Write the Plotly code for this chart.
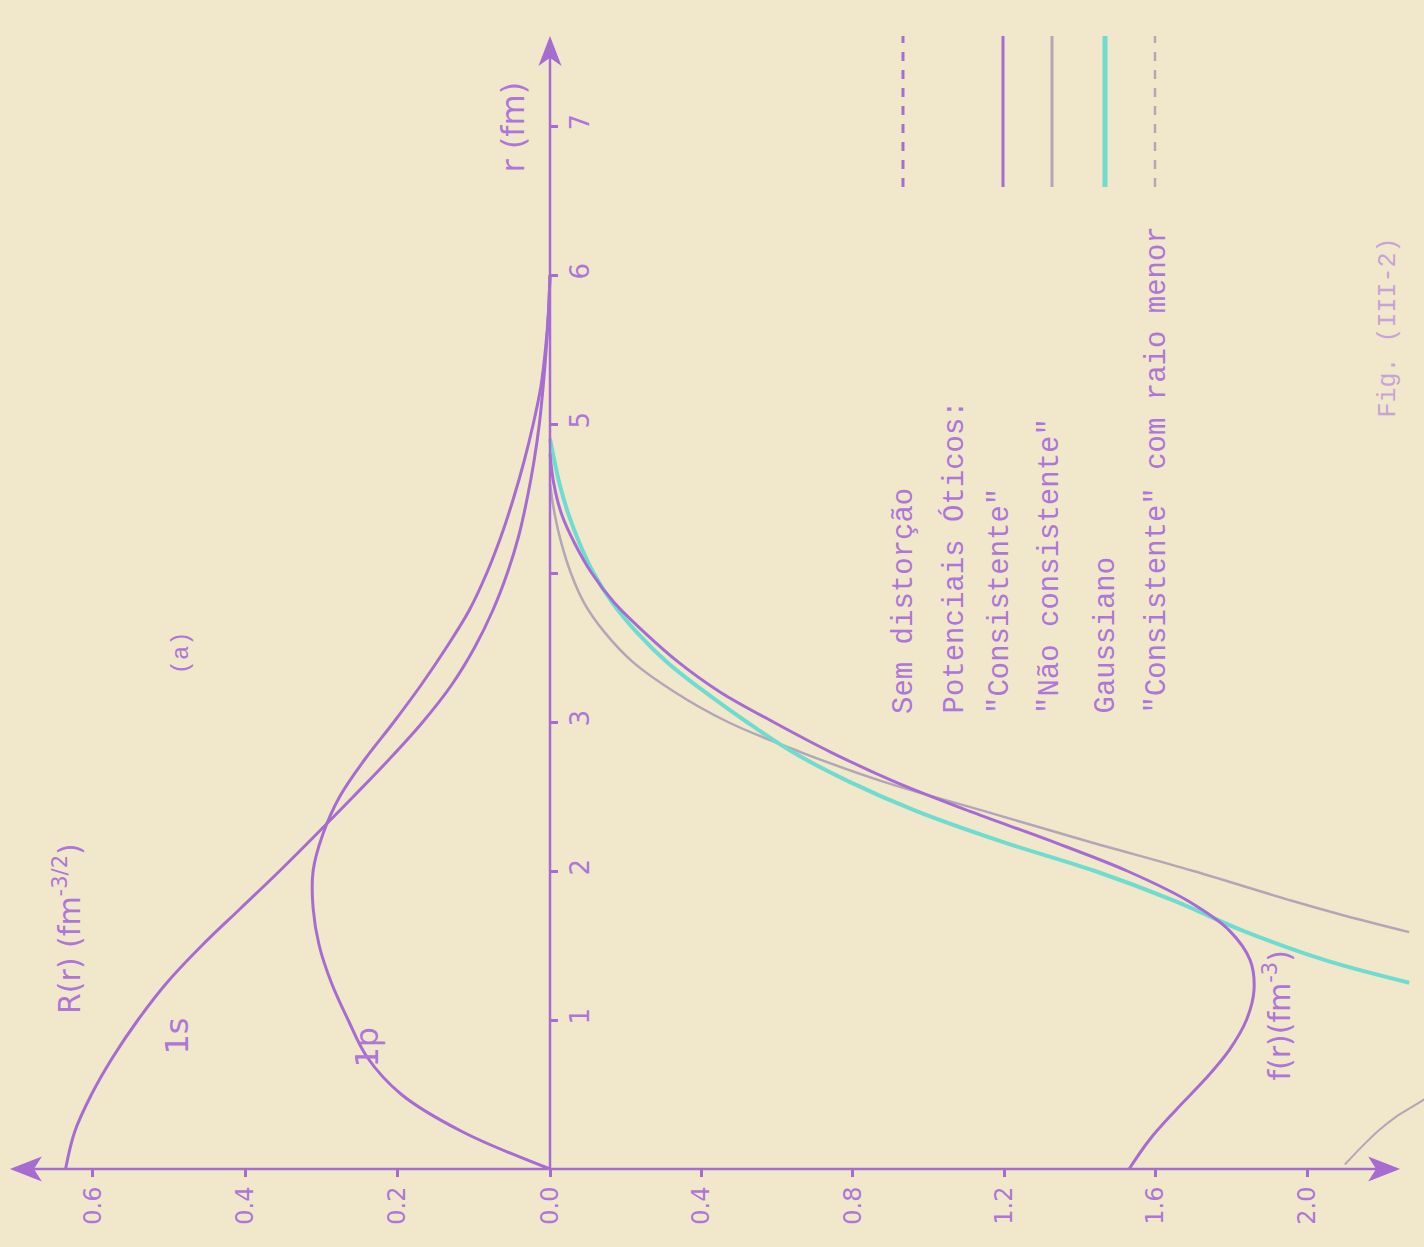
import plotly.graph_objects as go

# ---------------- data ----------------
# radial coordinate r (fm) and radial wave functions R(r) (fm^-3/2)
r_wave = [0, 0.25, 0.5, 0.75, 1.0, 1.25, 1.5, 1.75, 2.0, 2.25, 2.5, 2.75, 3.0,
          3.25, 3.5, 3.75, 4.0, 4.25, 4.5, 4.75, 5.0, 5.25, 5.5, 5.75, 6.0]
R_1s = [0.636, 0.624, 0.602, 0.574, 0.541, 0.503, 0.457, 0.406, 0.355, 0.306,
        0.258, 0.211, 0.167, 0.129, 0.099, 0.075, 0.056, 0.041, 0.030, 0.021,
        0.014, 0.009, 0.005, 0.002, 0.0]
R_1p = [0.0, 0.115, 0.195, 0.240, 0.265, 0.287, 0.303, 0.311, 0.311, 0.298,
        0.276, 0.243, 0.205, 0.169, 0.136, 0.106, 0.083, 0.064, 0.048, 0.034,
        0.022, 0.012, 0.006, 0.002, 0.0]

# densities f(r) (fm^-3)
r_cons = [0.0, 0.2, 0.4, 0.6, 0.8, 1.0, 1.2, 1.4, 1.6, 1.8, 2.0, 2.2, 2.4, 2.6,
          2.8, 3.0, 3.2, 3.4, 3.6, 3.8, 4.0, 4.2, 4.4, 4.6, 4.8]
f_cons = [1.53, 1.585, 1.655, 1.73, 1.795, 1.84, 1.86, 1.85, 1.795, 1.685,
          1.525, 1.325, 1.11, 0.91, 0.74, 0.59, 0.45, 0.34, 0.25, 0.17, 0.11,
          0.065, 0.03, 0.01, 0.0]

r_gauss = [1.25, 1.4, 1.6, 1.8, 2.0, 2.2, 2.4, 2.6, 2.8, 3.0, 3.2, 3.4, 3.6,
           3.8, 4.0, 4.2, 4.4, 4.6, 4.8, 4.9]
f_gauss = [2.27, 2.05, 1.83, 1.65, 1.44, 1.19, 0.97, 0.79, 0.64, 0.52, 0.41,
           0.31, 0.23, 0.165, 0.115, 0.078, 0.048, 0.025, 0.008, 0.0]

r_naocons = [1.59, 1.7, 1.8, 2.0, 2.2, 2.4, 2.6, 2.8, 3.0, 3.2, 3.4, 3.6, 3.8,
             4.0, 4.2, 4.4, 4.6]
f_naocons = [2.27, 2.10, 1.96, 1.70, 1.42, 1.15, 0.88, 0.66, 0.47, 0.33, 0.22,
             0.145, 0.09, 0.055, 0.03, 0.012, 0.0]

r_menor = [0.03, 0.15, 0.26, 0.35, 0.42, 0.5]
f_menor = [2.10, 2.145, 2.19, 2.235, 2.28, 2.33]

R_ticks = [0.6, 0.4, 0.2, 0.0]
R_ticktext = ["0.6", "0.4", "0.2", "0.0"]
f_ticks = [0.4, 0.8, 1.2, 1.6, 2.0]
f_ticktext = ["0.4", "0.8", "1.2", "1.6", "2.0"]
r_ticks = [1, 2, 3, 5, 6, 7]
r_ticktext = ["1", "2", "3", "5", "6", "7"]
r_minor_ticks = [4]          # tick mark drawn without a label

legend_labels = ["Sem distorção", "Potenciais Óticos:", "\"Consistente\"",
                 "\"Não consistente\"", "Gaussiano",
                 "\"Consistente\" com raio menor"]

# ---------------- styling / layout ----------------
W, H = 1424, 1247
X0 = 550           # pixel column of the r axis
Y0 = 1169          # pixel row of the horizontal axis (r = 0)
PX_R = 149.0       # pixels per fm
PX_RR = 761.7      # pixels per unit of R
PX_F = 378.5       # pixels per unit of f

BG = "#F1E8CB"
PURPLE = "#A66CD2"
TXT = "#AE76D8"
CYAN = "#6FDCCF"
GREY = "#B3A6B6"
LIGHT = "#C7A4D6"


def px(x):
    return x / W


def py(y):
    return (Y0 - y) / Y0


def path(points):
    return "M " + " L ".join(f"{px(a):.5f},{py(b):.5f}" for a, b in points) + " Z"


fig = go.Figure()

fig.add_trace(go.Scatter(x=R_1s, y=r_wave, mode="lines", xaxis="x", yaxis="y",
                         line=dict(color=PURPLE, width=3, shape="spline"),
                         name="1s"))
fig.add_trace(go.Scatter(x=R_1p, y=r_wave, mode="lines", xaxis="x", yaxis="y",
                         line=dict(color=PURPLE, width=3, shape="spline"),
                         name="1p"))
fig.add_trace(go.Scatter(x=f_naocons, y=r_naocons, mode="lines", xaxis="x2",
                         yaxis="y", line=dict(color=GREY, width=2.5,
                                              shape="spline"),
                         name="Não consistente"))
fig.add_trace(go.Scatter(x=f_gauss, y=r_gauss, mode="lines", xaxis="x2",
                         yaxis="y", line=dict(color=CYAN, width=4,
                                              shape="spline"),
                         name="Gaussiano"))
fig.add_trace(go.Scatter(x=f_cons, y=r_cons, mode="lines", xaxis="x2",
                         yaxis="y", line=dict(color=PURPLE, width=3,
                                              shape="spline"),
                         name="Consistente"))
fig.add_trace(go.Scatter(x=f_menor, y=r_menor, mode="lines", xaxis="x2",
                         yaxis="y", line=dict(color=GREY, width=2,
                                              shape="spline"),
                         name="Consistente com raio menor"))

xtickfont = dict(family="DejaVu Sans", size=24, color=TXT)
ytickfont = dict(family="DejaVu Sans", size=26, color=TXT)
tickstyle = dict(ticks="outside", ticklen=7, tickwidth=2.5, tickcolor=PURPLE,
                 showgrid=False, zeroline=False, showline=False)

fig.update_layout(
    width=W, height=H,
    margin=dict(l=0, r=0, t=0, b=H - Y0, pad=0),
    paper_bgcolor=BG, plot_bgcolor=BG,
    showlegend=False,
    xaxis=dict(range=[X0 / PX_RR, -(W - X0) / PX_RR], domain=[0, 1],
               anchor="y", side="bottom",
               tickmode="array", tickvals=R_ticks, ticktext=R_ticktext,
               tickangle=-90, tickfont=xtickfont, **tickstyle),
    xaxis2=dict(range=[-X0 / PX_F, (W - X0) / PX_F], overlaying="x",
                anchor="y", side="bottom",
                tickmode="array", tickvals=f_ticks, ticktext=f_ticktext,
                tickangle=-90, tickfont=xtickfont, **tickstyle),
    yaxis=dict(range=[0, Y0 / PX_R], domain=[0, 1], anchor="free",
               position=X0 / W, side="right",
               tickmode="array", tickvals=r_ticks, ticktext=r_ticktext,
               tickangle=-90, tickfont=ytickfont,
               minor=dict(tickmode="array", tickvals=r_minor_ticks,
                          ticks="outside", ticklen=7, tickwidth=2.5,
                          tickcolor=PURPLE, showgrid=False),
               **tickstyle),
)

# axis lines with arrow heads (decoration)
fig.add_shape(type="line", xref="paper", yref="paper",
              x0=px(14), x1=px(1396), y0=py(Y0), y1=py(Y0),
              line=dict(color=PURPLE, width=2.5))
fig.add_shape(type="line", xref="paper", yref="paper",
              x0=px(X0), x1=px(X0), y0=py(Y0), y1=py(40),
              line=dict(color=PURPLE, width=2.5))
for pts in ([(12, Y0), (40, Y0 - 11), (33, Y0), (40, Y0 + 11)],
            [(1398, Y0), (1370, Y0 - 11), (1377, Y0), (1370, Y0 + 11)],
            [(X0, 38), (X0 - 10, 64), (X0, 57), (X0 + 10, 64)]):
    fig.add_shape(type="path", xref="paper", yref="paper", path=path(pts),
                  fillcolor=PURPLE, line=dict(color=PURPLE, width=1.5))

hand = "DejaVu Sans"
annotations = [
    dict(x=px(46), y=py(1016), text="R(r) (fm<sup>-3/2</sup>)", textangle=-90,
         font=dict(family=hand, size=30, color=TXT)),
    dict(x=px(155), y=py(1057), text="1s", textangle=-90,
         font=dict(family=hand, size=32, color=TXT)),
    dict(x=px(345), y=py(1070), text="1p", textangle=-90,
         font=dict(family=hand, size=32, color=TXT)),
    dict(x=px(165), y=py(653), text="(a)", textangle=-90,
         font=dict(family="Liberation Mono", size=24, color=TXT)),
    dict(x=px(512), y=py(80), text="r (fm)", textangle=-90,
         font=dict(family=hand, size=32, color=TXT)),
    dict(x=px(1299), y=py(1083), text="f(r)(fm<sup>-3</sup>)", textangle=-90,
         font=dict(family=hand, size=30, color=TXT)),
    dict(x=px(1405), y=py(420), text="Fig. (III-2)", textangle=-90,
         yanchor="bottom",
         font=dict(family="Liberation Mono", size=25, color=LIGHT)),
]
for a in annotations:
    a.update(xref="paper", yref="paper", showarrow=False)

# legend (rotated typewriter text with line samples)
leg_x = [904, 954, 1000, 1050, 1106, 1157]
for lbl, lx in zip(legend_labels, leg_x):
    annotations.append(dict(x=px(lx), y=py(716), xref="paper", yref="paper",
                            text=lbl, textangle=-90, showarrow=False,
                            xanchor="center", yanchor="bottom",
                            font=dict(family="Liberation Mono", size=29,
                                      color=TXT)))
fig.update_layout(annotations=annotations)

samples = [(903, PURPLE, "dash", 3), (1003, PURPLE, "solid", 3),
           (1052, GREY, "solid", 3), (1105, CYAN, "solid", 5),
           (1155, GREY, "dash", 2.5)]
for sx, col, dash, w in samples:
    fig.add_shape(type="line", xref="paper", yref="paper",
                  x0=px(sx), x1=px(sx), y0=py(187), y1=py(36),
                  line=dict(color=col, width=w, dash=dash))

fig.write_html("out.html",
               config={"displayModeBar": False},
               post_script="document.body.style.margin='0';"
                           "document.body.style.overflow='hidden';")
